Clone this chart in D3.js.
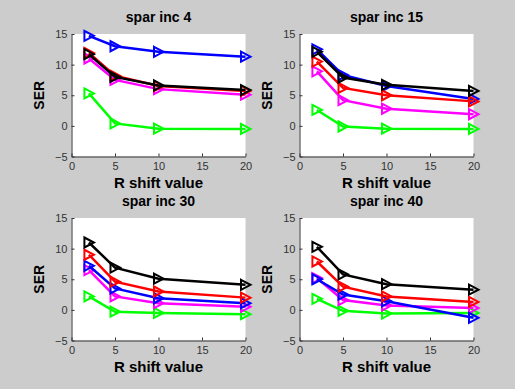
<!DOCTYPE html>
<html>
<head>
<meta charset="utf-8">
<script src="https://cdn.jsdelivr.net/npm/d3@7"></script>
<style>
  body { margin: 0; background: #cccccc; }
  svg { display: block; }
  .tick text { font-family: "Liberation Sans", Arial, sans-serif; font-size: 11px; fill: #333; }
  .axis path, .axis line { stroke: #333; }
  .lbl { font-family: "Liberation Sans", Arial, sans-serif; font-weight: bold; font-size: 14px; fill: #000; }
</style>
</head>
<body>
<div id="chart"></div>
<script>
// R shift values (x) shared by every panel
var xVals = [2, 5, 10, 20];
var titles = ["spar inc 4", "spar inc 15", "spar inc 30", "spar inc 40"];
var xTicks = [0, 5, 10, 15, 20];
var yTicks = [-5, 0, 5, 10, 15];

// SER per panel, one array per series
var greenVals = [[5.3, 0.4, -0.45, -0.5], [2.6, -0.1, -0.45, -0.5], [2.2, -0.3, -0.5, -0.7], [1.8, -0.15, -0.6, -0.5]];
var magentaVals = [[11.0, 7.5, 6.0, 5.1], [8.9, 4.2, 2.8, 1.9], [6.5, 2.2, 1.1, 0.5], [5.2, 1.6, 0.7, 0.3]];
var blueVals = [[14.7, 13.0, 12.1, 11.3], [12.5, 8.3, 6.5, 4.4], [7.2, 3.5, 1.9, 1.1], [5.0, 2.5, 1.4, -1.3]];
var redVals = [[11.9, 8.2, 6.5, 5.7], [10.5, 6.2, 5.0, 4.0], [9.0, 4.6, 3.0, 2.0], [7.9, 3.8, 2.2, 1.3]];
var blackVals = [[11.7, 8.0, 6.6, 5.85], [12.1, 7.9, 6.7, 5.7], [11.0, 6.9, 5.1, 4.1], [10.3, 5.8, 4.2, 3.3]];

var W = 515, H = 389;
var colLeft = [71.5, 299.5], rowTop = [34, 218];
var pw = 174, ph = 122.5;

var series = [
  { vals: greenVals, color: "#00ff00" },
  { vals: magentaVals, color: "#ff00ff" },
  { vals: blueVals, color: "#0000ff" },
  { vals: redVals, color: "#ff0000" },
  { vals: blackVals, color: "#000000" }
];

var svg = d3.select("#chart").append("svg")
  .attr("width", W)
  .attr("height", H);

var tri = "M-4.5,-5 L5,0 L-4.5,5 Z";

titles.forEach(function(title, i) {
  var ox = colLeft[i % 2], oy = rowTop[Math.floor(i / 2)];
  var g = svg.append("g").attr("transform", "translate(" + ox + "," + oy + ")");

  var x = d3.scaleLinear().domain([0, 20]).range([0, pw]);
  var y = d3.scaleLinear().domain([-5, 15]).range([ph, 0]);

  g.append("rect")
    .attr("width", pw)
    .attr("height", ph)
    .attr("fill", "#fff");

  g.append("g")
    .attr("class", "axis")
    .attr("transform", "translate(0," + ph + ")")
    .call(d3.axisBottom(x).tickValues(xTicks).tickSizeInner(-3).tickSizeOuter(0).tickPadding(6));

  g.append("g")
    .attr("class", "axis")
    .call(d3.axisLeft(y).tickValues(yTicks).tickSizeInner(-3).tickSizeOuter(0).tickPadding(4));

  g.selectAll(".axis .tick text").attr("fill", "#333");

  var line = d3.line()
    .x(function(d, k) { return x(xVals[k]); })
    .y(function(d) { return y(d); });

  series.forEach(function(s) {
    var vals = s.vals[i];
    g.append("path")
      .datum(vals)
      .attr("d", line)
      .attr("fill", "none")
      .attr("stroke", s.color)
      .attr("stroke-width", 2.5);

    g.selectAll(null)
      .data(vals)
      .enter()
      .append("path")
      .attr("d", tri)
      .attr("transform", function(d, k) { return "translate(" + x(xVals[k]) + "," + y(d) + ")"; })
      .attr("fill", "none")
      .attr("stroke", s.color)
      .attr("stroke-width", 2);
  });

  g.append("text")
    .attr("class", "lbl")
    .attr("x", pw / 2)
    .attr("y", -12)
    .attr("text-anchor", "middle")
    .text(title);

  g.append("text")
    .attr("class", "lbl")
    .attr("x", pw / 2)
    .attr("y", ph + 31)
    .attr("text-anchor", "middle")
    .style("font-size", "15px")
    .text("R shift value");

  g.append("text")
    .attr("class", "lbl")
    .attr("transform", "translate(-28," + (ph / 2) + ") rotate(-90)")
    .attr("text-anchor", "middle")
    .text("SER");
});
</script>
</body>
</html>
